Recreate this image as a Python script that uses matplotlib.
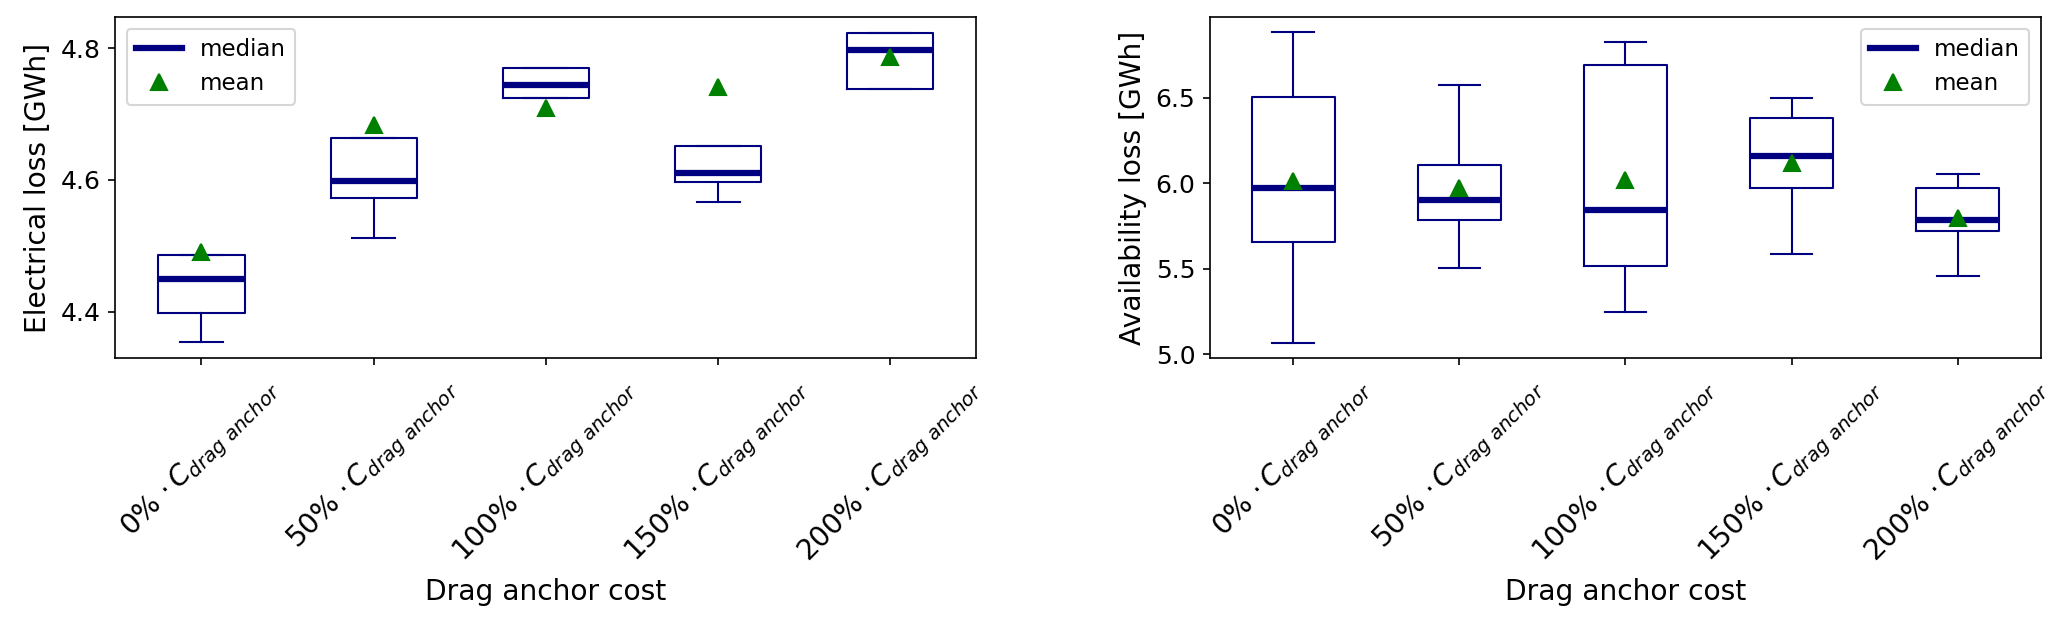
import matplotlib.pyplot as plt
from matplotlib.lines import Line2D

# Statystyki pudełek
costs = ["0%", "50%", "100%", "150%", "200%"]

elec_whislo = [4.353, 4.512, 4.724, 4.567, 4.738]
elec_q1 = [4.398, 4.572, 4.724, 4.597, 4.738]
elec_med = [4.450, 4.598, 4.744, 4.610, 4.797]
elec_q3 = [4.486, 4.663, 4.770, 4.651, 4.823]
elec_whishi = [4.486, 4.663, 4.770, 4.651, 4.823]
elec_mean = [4.490, 4.684, 4.710, 4.741, 4.786]

avail_whislo = [5.068, 5.506, 5.248, 5.588, 5.459]
avail_q1 = [5.654, 5.783, 5.518, 5.973, 5.722]
avail_med = [5.969, 5.904, 5.842, 6.158, 5.785]
avail_q3 = [6.506, 6.105, 6.689, 6.379, 5.970]
avail_whishi = [6.881, 6.574, 6.822, 6.496, 6.056]
avail_mean = [6.011, 5.973, 6.021, 6.119, 5.797]

plt.rcParams['font.size'] = 12

BOX_COLOR = "navy"
MEAN_COLOR = "green"


def build_stats(whislo, q1, med, q3, whishi, mean):
    # Zbuduj listę słowników dla ax.bxp
    #
    stats = []
    for i in range(len(med)):
        stats.append({"whislo": whislo[i], "q1": q1[i], "med": med[i], "q3": q3[i],
                      "whishi": whishi[i], "mean": mean[i], "fliers": []})
    return stats


def draw_panel(ax, stats, ylabel, legend_loc):
    # Narysuj jeden panel z wykresami pudełkowymi
    #
    ax.bxp(stats, widths=0.5, showmeans=True,
           boxprops=dict(color=BOX_COLOR, linewidth=1),
           whiskerprops=dict(color=BOX_COLOR, linewidth=1),
           capprops=dict(color=BOX_COLOR, linewidth=1),
           medianprops=dict(color=BOX_COLOR, linewidth=3),
           meanprops=dict(marker="^", markerfacecolor=MEAN_COLOR, markeredgecolor=MEAN_COLOR,
                          markersize=8))
    labels = [c + r" $\cdot\,C_{drag\ anchor}$" for c in costs]
    ax.set_xticks(range(1, len(costs) + 1))
    ax.set_xticklabels(labels, rotation=45, fontsize=13.5)
    ax.set_xlabel("Drag anchor cost", fontsize=13.5)
    ax.set_ylabel(ylabel, fontsize=13.5)
    handles = [Line2D([], [], color=BOX_COLOR, linewidth=3),
               Line2D([], [], linestyle="none", marker="^", color=MEAN_COLOR, markersize=8)]
    ax.legend(handles, ["median", "mean"], loc=legend_loc, fontsize=11)


fig = plt.figure(figsize=(13.78, 4.2), dpi=150)
ax1 = fig.add_axes([0.0558, 0.4313, 0.9329 - 0.0558 - 0.4605, 0.5412])
ax2 = fig.add_axes([0.5854, 0.4313, 0.9874 - 0.5854, 0.5412])

draw_panel(ax1, build_stats(elec_whislo, elec_q1, elec_med, elec_q3, elec_whishi, elec_mean),
           "Electrical loss [GWh]", "upper left")
ax1.set_ylim(4.329, 4.847)
ax1.set_yticks([4.4, 4.6, 4.8])

draw_panel(ax2, build_stats(avail_whislo, avail_q1, avail_med, avail_q3, avail_whishi, avail_mean),
           "Availability loss [GWh]", "upper right")
ax2.set_ylim(4.977, 6.969)
ax2.set_yticks([5.0, 5.5, 6.0, 6.5])

fig.savefig("out.png", dpi=150)
